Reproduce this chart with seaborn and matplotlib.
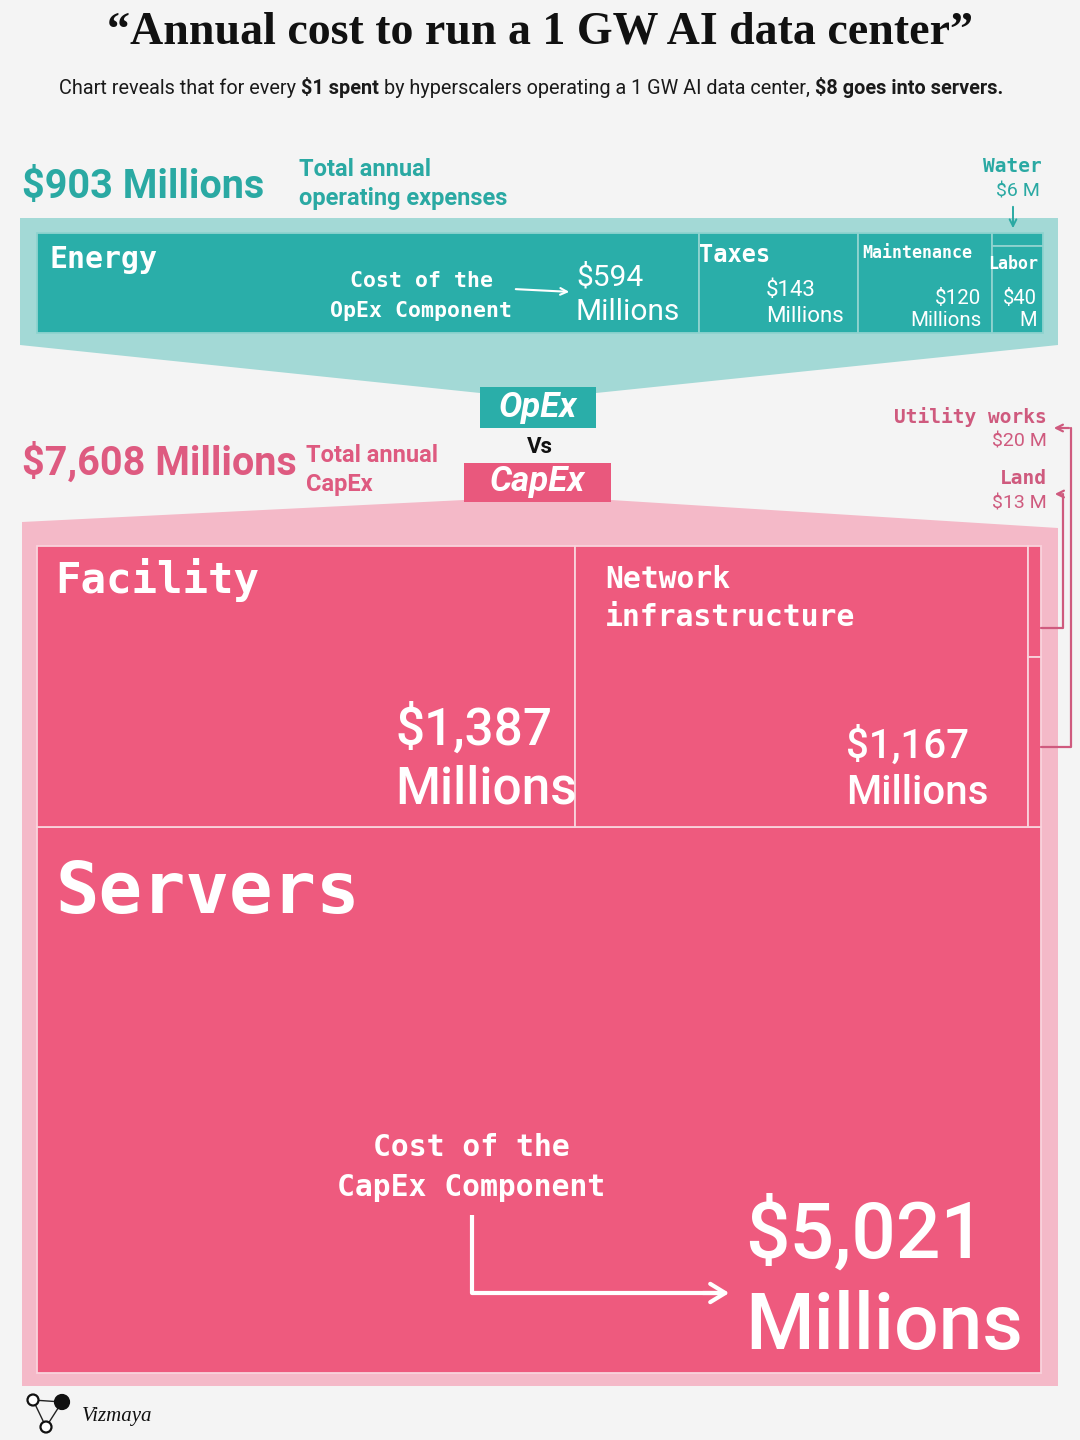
import seaborn as sns
import matplotlib.pyplot as plt
from matplotlib.patches import Polygon, Circle

# values (millions of USD per year)
opex_labels = ["Energy", "Taxes", "Maintenance", "Labor", "Water"]
opex_values = [594, 143, 120, 40, 6]
capex_labels = ["Servers", "Facility", "Network infrastructure", "Utility works", "Land"]
capex_values = [5021, 1387, 1167, 20, 13]
opex_total = 903
capex_total = 7608

opex = dict(zip(opex_labels, opex_values))
capex = dict(zip(capex_labels, capex_values))

sns.set_theme(style="white")

BG = "#f4f4f4"
TEAL = "#2aaea9"
TEAL_LIGHT = "#a3d9d6"
TEAL_EDGE = "#8fd3cf"
TEAL_TEXT = "#2aa9a3"
PINK = "#ee5a7e"
PINK_LIGHT = "#f4b9c8"
PINK_EDGE = "#f9d3dc"
PINK_TEXT = "#de5a80"
PINK_DARK = "#cf5a7e"
MONO = "DejaVu Sans Mono"
SANS = "Roboto"
SERIF = "Liberation Serif"

fig = plt.figure(figsize=(10.8, 14.4), dpi=100)
fig.patch.set_facecolor(BG)
ax = fig.add_axes([0, 0, 1, 1])
ax.set_xlim(0, 1080)
ax.set_ylim(1440, 0)
ax.axis("off")
ax.set_facecolor(BG)


def txt(x, y, s, size, color="white", family=SANS, weight="normal", ha="left",
        va="center", style="normal"):
    return ax.text(x, y, s, fontsize=size, color=color, family=family, weight=weight,
                   ha=ha, va=va, style=style, zorder=6)


def split(rect, vals, horizontal):
    # slice a rectangle proportionally to vals
    x, y, w, h = rect
    tot = float(sum(vals))
    out = []
    pos = x if horizontal else y
    for v in vals:
        if horizontal:
            ww = w * v / tot
            out.append((pos, y, ww, h))
            pos += ww
        else:
            hh = h * v / tot
            out.append((x, pos, w, hh))
            pos += hh
    return out


def draw_rects(rects, color, edge):
    ax.bar([r[0] for r in rects], [r[3] for r in rects], width=[r[2] for r in rects],
           bottom=[r[1] for r in rects], align="edge", color=color, edgecolor=edge,
           linewidth=1.3, zorder=3)


# ---- title + subtitle
txt(540, 32, "\u201cAnnual cost to run a 1 GW AI data center\u201d", 33, color="#111111",
    family=SERIF, weight="bold", ha="center")

pieces = [("Chart reveals that for every", "normal"), ("$1 spent", "bold"),
          ("by hyperscalers operating a 1 GW AI data center,", "normal"),
          ("$8 goes into servers.", "bold")]
r = fig.canvas.get_renderer()
probe1 = ax.text(0, 0, "xx", fontsize=14.3, family=SANS)
probe2 = ax.text(0, 0, "x x", fontsize=14.3, family=SANS)
space = probe2.get_window_extent(r).width - probe1.get_window_extent(r).width
probe1.remove()
probe2.remove()
objs = [txt(0, 88, s, 14.3, color="#1a1a1a", weight=w) for s, w in pieces]
widths = [o.get_window_extent(r).width for o in objs]
total_w = sum(widths) + space * (len(objs) - 1)
x = 531 - total_w / 2
for o, w in zip(objs, widths):
    o.set_x(x)
    x += w + space

# ---- OpEx block
ax.add_patch(Polygon([(20, 218), (1058, 218), (1058, 345), (596, 393), (480, 393), (20, 345)],
                     closed=True, color=TEAL_LIGHT, zorder=1, lw=0))
OPEX_BOX = (37, 233, 1006, 100)
cols = split(OPEX_BOX, [opex["Energy"], opex["Taxes"], opex["Maintenance"],
                        opex["Labor"] + opex["Water"]], True)
water_r, labor_r = split(cols[3], [opex["Water"], opex["Labor"]], False)
draw_rects(cols[:3] + [water_r, labor_r], TEAL, TEAL_EDGE)

txt(22, 187, f"${opex_total} Millions", 28.5, color=TEAL_TEXT, weight="bold")
txt(299, 169, "Total annual", 17, color=TEAL_TEXT, weight="bold")
txt(299, 199, "operating expenses", 17, color=TEAL_TEXT, weight="bold")
txt(1042, 167, "Water", 14, color=TEAL_TEXT, family=MONO, weight="bold", ha="right")
txt(1040, 192, f"${opex['Water']} M", 14, color=TEAL_TEXT, ha="right")
ax.annotate("", xy=(1013, 231), xytext=(1013, 204),
            arrowprops=dict(arrowstyle="->", color=TEAL_TEXT, lw=1.4), zorder=5)

txt(49, 260, "Energy", 21.5, family=MONO, weight="bold")
txt(421, 281, "Cost of the", 15.5, family=MONO, weight="bold", ha="center")
txt(421, 311, "OpEx Component", 15.5, family=MONO, weight="bold", ha="center")
ax.annotate("", xy=(572, 292), xytext=(513, 289),
            arrowprops=dict(arrowstyle="->", color="white", lw=1.5), zorder=6)
txt(576, 277, f"${opex['Energy']}", 21.5)
txt(576, 312, "Millions", 21.5)
txt(699, 255, "Taxes", 17, family=MONO, weight="bold")
txt(766, 291, f"${opex['Taxes']}", 16)
txt(766, 317, "Millions", 16)
txt(862, 253, "Maintenance", 12, family=MONO, weight="bold")
txt(981, 298, f"${opex['Maintenance']}", 14.8, ha="right")
txt(981, 321, "Millions", 14.8, ha="right")
txt(988, 264, "Labor", 12, family=MONO, weight="bold")
txt(1037, 298, f"${opex['Labor']}", 14.5, ha="right")
txt(1037, 321, "M", 14.5, ha="right")

# ---- OpEx vs CapEx badges
ax.bar([480], [41], width=[116], bottom=[387], align="edge", color=TEAL, linewidth=0, zorder=4)
txt(538, 407, "OpEx", 25, weight="bold", style="italic", ha="center")
txt(540, 447, "Vs", 16, color="#111111", weight="bold", ha="center")

# ---- CapEx block
ax.add_patch(Polygon([(22, 522), (464, 500), (611, 500), (1058, 528), (1058, 1386), (22, 1386)],
                     closed=True, color=PINK_LIGHT, zorder=1, lw=0))
ax.bar([464], [39], width=[147], bottom=[463], align="edge", color="#e9587d", linewidth=0,
       zorder=4)
txt(537, 482, "CapEx", 25, weight="bold", style="italic", ha="center")

CAPEX_BOX = (37, 546, 1004, 827)
top_sum = capex["Facility"] + capex["Network infrastructure"] + capex["Utility works"] + capex["Land"]
top_row, servers_r = split(CAPEX_BOX, [top_sum, capex["Servers"]], False)
fac_r, net_r, small_r = split(top_row, [capex["Facility"], capex["Network infrastructure"],
                                        capex["Utility works"] + capex["Land"]], True)
land_r, util_r = split(small_r, [capex["Land"], capex["Utility works"]], False)
draw_rects([servers_r, fac_r, net_r, land_r, util_r], PINK, PINK_EDGE)

txt(22, 462, f"${capex_total:,} Millions", 28.5, color=PINK_TEXT, weight="bold")
txt(306, 455, "Total annual", 17, color=PINK_TEXT, weight="bold")
txt(306, 485, "CapEx", 17, color=PINK_TEXT, weight="bold")

txt(1047, 417, "Utility works", 14, color=PINK_DARK, family=MONO, weight="bold", ha="right")
txt(1047, 441, f"${capex['Utility works']} M", 14, color=PINK_DARK, ha="right")
txt(1047, 479, "Land", 14, color=PINK_DARK, family=MONO, weight="bold", ha="right")
txt(1047, 503, f"${capex['Land']} M", 14, color=PINK_DARK, ha="right")

# brackets from the thin slices up to their labels
right = small_r[0] + small_r[2]
uy = util_r[1] + util_r[3] / 2 + 5
ly = land_r[1] + land_r[3] / 2 + 27
ax.plot([right, 1071, 1071], [uy, uy, 428], color=PINK_DARK, lw=1.6, zorder=5)
ax.annotate("", xy=(1051, 428), xytext=(1071.8, 428),
            arrowprops=dict(arrowstyle="->", color=PINK_DARK, lw=1.6), zorder=5)
ax.plot([right, 1063, 1063], [ly, ly, 494], color=PINK_DARK, lw=1.6, zorder=5)
ax.annotate("", xy=(1052, 494), xytext=(1063.8, 494),
            arrowprops=dict(arrowstyle="->", color=PINK_DARK, lw=1.6), zorder=5)

txt(55, 580, "Facility", 30.5, family=MONO, weight="bold")
txt(395, 730, f"${capex['Facility']:,}", 37, weight="medium")
txt(395, 790, "Millions", 37, weight="medium")
txt(605, 579, "Network", 21.4, family=MONO, weight="bold")
txt(605, 617, "infrastructure", 21.4, family=MONO, weight="bold")
txt(846, 746, f"${capex['Network infrastructure']:,}", 29, weight="medium")
txt(846, 793, "Millions", 29, weight="medium")
txt(55, 893, "Servers", 52, family=MONO, weight="bold")
txt(471, 1148, "Cost of the", 21.4, family=MONO, weight="bold", ha="center")
txt(471, 1188, "CapEx Component", 21.4, family=MONO, weight="bold", ha="center")
txt(745, 1235, f"${capex['Servers']:,}", 56.5, weight="medium")
txt(745, 1328, "Millions", 56.5, weight="medium")

ax.plot([472, 472, 720], [1215, 1293, 1293], color="white", lw=3, zorder=6,
        solid_capstyle="butt")
ax.annotate("", xy=(732, 1293), xytext=(700, 1293),
            arrowprops=dict(arrowstyle="->,head_length=0.9,head_width=0.55",
                            color="white", lw=3), zorder=6)

# ---- logo
ax.plot([33, 62, 46, 33], [1400, 1402, 1427, 1400], color="#222222", lw=1, zorder=7)
ax.add_patch(Circle((33, 1400), 5.5, facecolor="white", edgecolor="#111111", lw=1.6, zorder=8))
ax.add_patch(Circle((62, 1402), 7, facecolor="#111111", edgecolor="#111111", lw=1.6, zorder=8))
ax.add_patch(Circle((46, 1427), 5.5, facecolor="white", edgecolor="#111111", lw=1.6, zorder=8))
txt(82, 1416, "Vizmaya", 15, color="#111111", family=SERIF, style="italic")

fig.savefig("out.png", dpi=100, facecolor=BG)
